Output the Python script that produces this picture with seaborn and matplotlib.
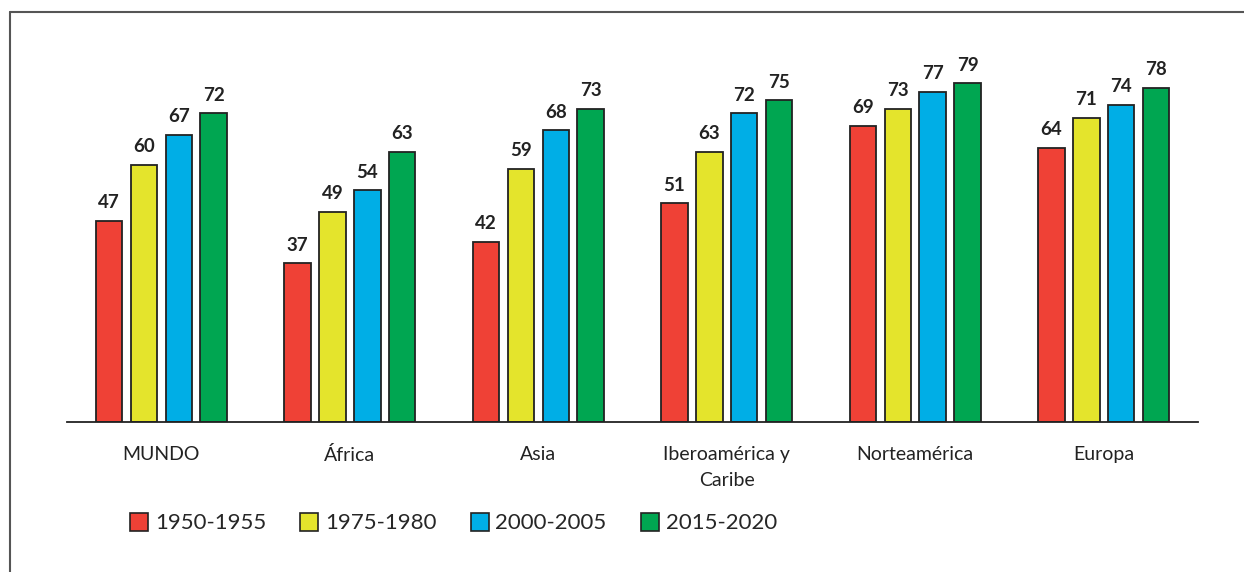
import matplotlib
matplotlib.use("Agg")
import matplotlib.pyplot as plt
from matplotlib.lines import Line2D
import numpy as np
import pandas as pd
import seaborn as sns

# Esperanza de vida por región y periodo
regions = ["MUNDO", "África", "Asia", "Iberoamérica y\nCaribe", "Norteamérica", "Europa"]
periods = ["1950-1955", "1975-1980", "2000-2005", "2015-2020"]
v_1950 = [47, 37, 42, 51, 69, 64]
v_1975 = [60, 49, 59, 63, 73, 71]
v_2000 = [67, 54, 68, 72, 77, 74]
v_2015 = [72, 63, 73, 75, 79, 78]

PALETTE = ["#EF4136", "#E4E42C", "#00AEE6", "#00A651"]

rows = []
for period, vals in zip(periods, [v_1950, v_1975, v_2000, v_2015]):
    for reg, v in zip(regions, vals):
        rows.append({"region": reg, "period": period, "value": v})
df = pd.DataFrame(rows)

sns.set_theme(style="white")
plt.rcParams["font.family"] = ["Lato", "DejaVu Sans"]

fig = plt.figure(figsize=(12.44, 5.72), dpi=100)
ax = fig.add_axes([0.054, 0.262, 0.909, 0.675])

sns.barplot(data=df, x="region", y="value", hue="period", order=regions,
            hue_order=periods, palette=PALETTE, width=0.74, gap=0.24,
            edgecolor="#222222", linewidth=1.3, saturation=1, ax=ax)

for cont in ax.containers:
    ax.bar_label(cont, padding=7, fontsize=13.5, fontweight="bold", color="#222222")

ax.set_ylim(0, 90)
ax.set_xlim(-0.5, 5.5)
ax.set_xlabel("")
ax.set_ylabel("")
ax.set_yticks([])
ax.tick_params(axis="x", length=0, pad=17, labelsize=14, labelcolor="#222222")
for lbl in ax.get_xticklabels():
    lbl.set_linespacing(1.65)
for s in ["top", "right", "left"]:
    ax.spines[s].set_visible(False)
ax.spines["bottom"].set_color("#222222")
ax.spines["bottom"].set_linewidth(1.3)

ax.legend_.remove()
handles = [Line2D([0], [0], marker="s", linestyle="", markersize=13,
                  markerfacecolor=c, markeredgecolor="#222222", markeredgewidth=1.2)
           for c in PALETTE]
fig.legend(handles, periods, loc="center left", bbox_to_anchor=(0.087, 0.085),
           ncol=4, frameon=False, fontsize=16, handletextpad=0.2,
           columnspacing=1.45, handlelength=1.0)

# marco exterior (recortado a derecha y abajo)
fig.add_artist(Line2D([10 / 1244, 1], [1 - 12 / 572, 1 - 12 / 572],
                      transform=fig.transFigure, color="#555555", lw=1.5))
fig.add_artist(Line2D([10 / 1244, 10 / 1244], [0, 1 - 12 / 572],
                      transform=fig.transFigure, color="#555555", lw=1.5))

fig.savefig("out.png", dpi=100)
